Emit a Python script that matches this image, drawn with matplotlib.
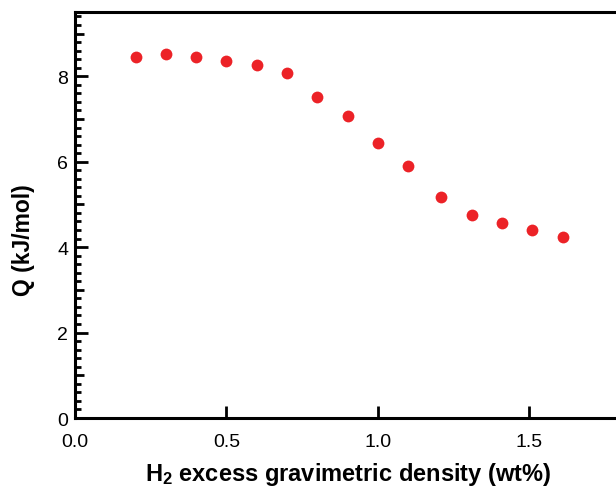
import matplotlib.pyplot as plt
from matplotlib.ticker import MultipleLocator, FuncFormatter

plt.rcParams['font.family'] = 'Liberation Sans'
plt.rcParams['mathtext.fontset'] = 'custom'
plt.rcParams['mathtext.bf'] = 'Liberation Sans:bold'
plt.rcParams['mathtext.rm'] = 'Liberation Sans'

# H2 loading (wt%) and isosteric heat Q (kJ/mol)
density = [0.20, 0.30, 0.40, 0.50, 0.60, 0.70, 0.80, 0.90,
           1.00, 1.10, 1.21, 1.31, 1.41, 1.51, 1.61]
heat = [8.44, 8.51, 8.44, 8.36, 8.26, 8.07, 7.51, 7.06,
        6.43, 5.91, 5.17, 4.76, 4.57, 4.39, 4.24]

fig = plt.figure(figsize=(6.16, 4.89), dpi=100)
ax = fig.add_axes([0.1218, 0.1431, 0.885, 0.830])

ax.plot(density, heat, 'o', color='#ec2227', markersize=8.5, markeredgewidth=0)

ax.set_xlim(0, 1.8)
ax.set_ylim(0, 9.5)

for s in ax.spines.values():
    s.set_linewidth(2.2)

ax.xaxis.set_major_locator(MultipleLocator(0.5))
ax.xaxis.set_major_formatter(FuncFormatter(lambda v, p: f"{v:.1f}"))
ax.yaxis.set_major_locator(MultipleLocator(1))
ax.yaxis.set_minor_locator(MultipleLocator(0.2))
ax.yaxis.set_major_formatter(FuncFormatter(lambda v, p: f"{v:.0f}" if round(v) % 2 == 0 else ""))

ax.tick_params(axis='both', which='major', direction='in', length=9, width=2,
               labelsize=14, top=False, right=False)
ax.tick_params(axis='x', which='major', pad=11)
ax.tick_params(axis='y', which='major', pad=5)
ax.tick_params(axis='y', which='minor', direction='in', length=4.5, width=2, right=False)

fig.canvas.draw()
for v, t in zip(ax.yaxis.get_majorticklocs(), ax.yaxis.get_major_ticks()):
    if round(v) % 2 == 1:
        t.tick1line.set_markersize(6.5)

ax.set_xlabel(r'$\mathbf{H_2}$ excess gravimetric density (wt%)', fontsize=17,
              fontweight='bold', labelpad=7)
ax.set_ylabel('Q (kJ/mol)', fontsize=16.5, fontweight='bold')
ax.yaxis.set_label_coords(-0.073, 0.44)

fig.savefig('out.png', dpi=100)
